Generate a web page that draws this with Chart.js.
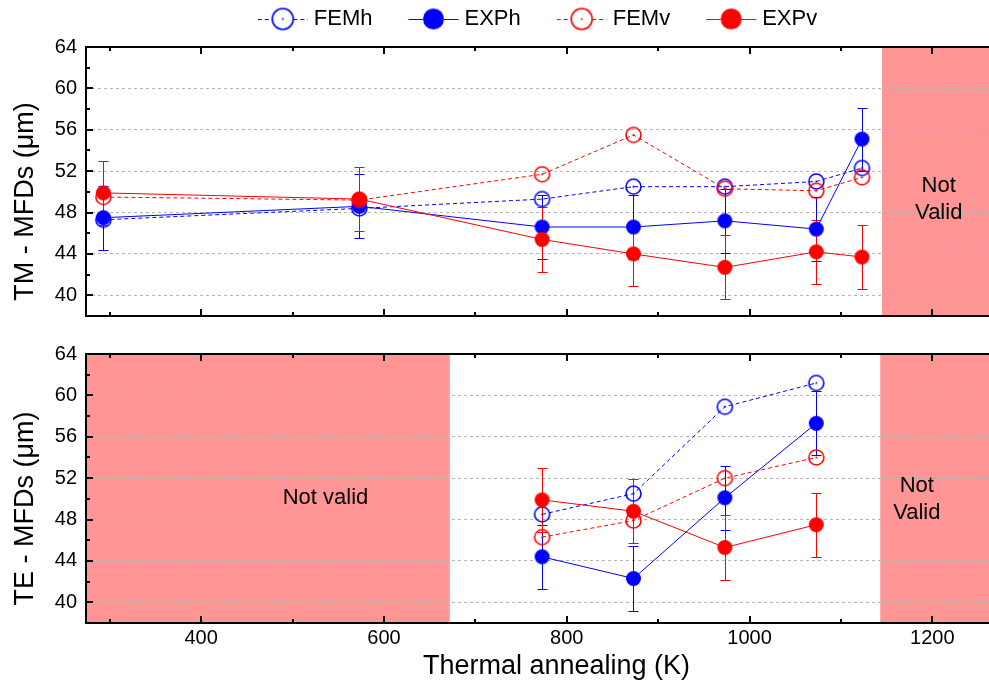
<!DOCTYPE html>
<html>
<head>
<meta charset="utf-8">
<script src="https://cdn.jsdelivr.net/npm/chart.js@4.4.1/dist/chart.umd.min.js"></script>
<style>
  body { margin: 0; background: #fff; }
  #wrap { position: relative; width: 989px; height: 683px; }
  #topBox { position: absolute; left: 0; top: 0; width: 989px; height: 330px; }
  #botBox { position: absolute; left: 0; top: 330px; width: 989px; height: 353px; }
</style>
</head>
<body>
<div id="wrap">
  <div id="topBox"><canvas id="chartTM"></canvas></div>
  <div id="botBox"><canvas id="chartTE"></canvas></div>
</div>
<script>
// temperaturas de recozimento (K)
const tempsTM = [293, 573, 773, 873, 973, 1073, 1123];
const tempsTE = [773, 873, 973, 1073];

// modo TM (um)
const femhTM = [47.3, 48.4, 49.3, 50.5, 50.5, 51.0, 52.3];
const exphTM = [47.5, 48.6, 46.6, 46.6, 47.2, 46.4, 55.1];
const femvTM = [49.5, 49.2, 51.7, 55.5, 50.3, 50.1, 51.4];
const expvTM = [49.9, 49.3, 45.4, 44.0, 42.7, 44.2, 43.7];
const exphErrTM = [3.1, 3.1, 3.1, 3.1, 3.1, 3.1, 3.05];
const expvErrTM = [3.1, 3.1, 3.1, 3.1, 3.1, 3.1, 3.1];

// modo TE (um)
const femhTE = [48.5, 50.5, 58.9, 61.2];
const exphTE = [44.4, 42.3, 50.1, 57.3];
const femvTE = [46.3, 47.9, 52.0, 54.0];
const expvTE = [49.9, 48.8, 45.3, 47.5];
const exphErrTE = [3.1, 3.1, 3.1, 3.1];
const expvErrTE = [3.1, 3.1, 3.1, 3.1];

const seriesNames = ['FEMh', 'EXPh', 'FEMv', 'EXPv'];
const xRange = [274, 1262];
const yRange = [38, 64];

// zonas "not valid" [de, ate] em K
const invalidTM = [[1145, 1262]];
const invalidTE = [[274, 672], [1143, 1262]];
// textos dentro das zonas: [x, y, texto]
const notesTM = [[1207, 49.3, 'Not\nValid']];
const notesTE = [[536, 50.1, 'Not valid'], [1183, 49.9, 'Not\nValid']];

const BLUE = '#0000ff';
const RED = '#ff0000';
const FONT = '"Liberation Sans", Arial, sans-serif';

Chart.defaults.font.family = FONT;
Chart.defaults.color = '#000';

function makeMarker(color, open, r) {
    const c = document.createElement('canvas');
    const s = Math.ceil(r * 2 + 4);
    c.width = s; c.height = s;
    const g = c.getContext('2d');
    g.beginPath();
    g.arc(s / 2, s / 2, r, 0, Math.PI * 2);
    if (open) {
        g.lineWidth = 1.6;
        g.strokeStyle = color;
        g.stroke();
        g.beginPath();
        g.arc(s / 2, s / 2, 1, 0, Math.PI * 2);
        g.fillStyle = color;
        g.fill();
    } else {
        g.fillStyle = color;
        g.fill();
    }
    return c;
}

function makeSets(xs, fh, eh, fv, ev, ehErr, evErr) {
    const pts = ys => xs.map((x, i) => ({x: x, y: ys[i]}));
    const base = (label, ys, color, open, order) => ({
        label: label,
        data: pts(ys),
        borderColor: color,
        backgroundColor: color,
        borderWidth: 1,
        borderDash: open ? [4, 3] : [],
        pointStyle: makeMarker(color, open, 7.5),
        legendMarker: makeMarker(color, open, 10.5),
        pointRadius: 7,
        order: order
    });
    const sets = [
        base(seriesNames[0], fh, BLUE, true, 4),
        base(seriesNames[1], eh, BLUE, false, 3),
        base(seriesNames[2], fv, RED, true, 2),
        base(seriesNames[3], ev, RED, false, 1)
    ];
    sets[1].errors = ehErr;
    sets[3].errors = evErr;
    return sets;
}

// zonas sombreadas por baixo da grade
const shadePlugin = {
    id: 'shade',
    beforeDraw(chart, args, opts) {
        const ctx = chart.ctx, ca = chart.chartArea, xs = chart.scales.x;
        ctx.save();
        ctx.fillStyle = '#ff9595';
        (opts.zones || []).forEach(z => {
            const a = Math.max(xs.getPixelForValue(z[0]), ca.left);
            const b = Math.min(xs.getPixelForValue(z[1]), ca.right);
            ctx.fillRect(a, ca.top, b - a, ca.bottom - ca.top);
        });
        ctx.restore();
    },
    afterDraw(chart, args, opts) {
        const ctx = chart.ctx, xs = chart.scales.x, ys = chart.scales.y;
        ctx.save();
        ctx.fillStyle = '#000';
        ctx.font = '22px ' + FONT;
        ctx.textAlign = 'center';
        ctx.textBaseline = 'middle';
        (opts.notes || []).forEach(n => {
            const lines = n[2].split('\n');
            const px = xs.getPixelForValue(n[0]);
            const py = ys.getPixelForValue(n[1]) - (lines.length - 1) * 27 / 2;
            lines.forEach((t, i) => ctx.fillText(t, px, py + i * 27));
        });
        ctx.restore();
    }
};

const errorBars = {
    id: 'errorBars',
    beforeDatasetsDraw(chart) {
        const ctx = chart.ctx, xs = chart.scales.x, ys = chart.scales.y;
        chart.data.datasets.forEach(ds => {
            if (!ds.errors) return;
            ctx.save();
            ctx.strokeStyle = ds.borderColor;
            ctx.lineWidth = 1;
            ds.data.forEach((p, i) => {
                const px = Math.round(xs.getPixelForValue(p.x)) + 0.5;
                const top = Math.round(ys.getPixelForValue(p.y + ds.errors[i])) + 0.5;
                const bot = Math.round(ys.getPixelForValue(p.y - ds.errors[i])) + 0.5;
                ctx.beginPath();
                ctx.moveTo(px, top); ctx.lineTo(px, bot);
                ctx.moveTo(px - 5, top); ctx.lineTo(px + 5, top);
                ctx.moveTo(px - 5, bot); ctx.lineTo(px + 5, bot);
                ctx.stroke();
            });
            ctx.restore();
        });
    }
};

// moldura, ticks para dentro e titulos dos eixos
const framePlugin = {
    id: 'frame',
    afterDraw(chart, args, opts) {
        const ctx = chart.ctx, ca = chart.chartArea;
        const xs = chart.scales.x, ys = chart.scales.y;
        ctx.save();
        ctx.strokeStyle = '#000';
        ctx.lineWidth = 2;
        ctx.beginPath();
        xs.ticks.forEach(t => {
            const px = Math.round(xs.getPixelForValue(t.value));
            if (px >= ca.right - 1) return;
            const len = t.value % 200 === 0 ? 7 : 4;
            ctx.moveTo(px, ca.bottom); ctx.lineTo(px, ca.bottom - len);
            ctx.moveTo(px, ca.top); ctx.lineTo(px, ca.top + len);
        });
        ys.ticks.forEach(t => {
            const py = Math.round(ys.getPixelForValue(t.value));
            const len = t.value % 4 === 0 ? 7 : 4;
            ctx.moveTo(ca.left, py); ctx.lineTo(ca.left + len, py);
        });
        ctx.stroke();
        ctx.beginPath();
        ctx.moveTo(ca.right + 2, ca.top);
        ctx.lineTo(ca.left, ca.top);
        ctx.lineTo(ca.left, ca.bottom);
        ctx.lineTo(ca.right + 2, ca.bottom);
        ctx.stroke();

        // titulos (o original esta cortado a direita, por isso fora do centro)
        ctx.fillStyle = '#000';
        ctx.font = '27px ' + FONT;
        ctx.textAlign = 'center';
        ctx.textBaseline = 'middle';
        ctx.save();
        ctx.translate(26, (ca.top + ca.bottom) / 2 + 20);
        ctx.rotate(-Math.PI / 2);
        ctx.fillText(opts.yTitle, 0, 0);
        ctx.restore();
        if (opts.xTitle) {
            ctx.fillText(opts.xTitle, (ca.left + ca.right) / 2 + 19, chart.height - 16);
        }
        ctx.restore();
    }
};

const legendPlugin = {
    id: 'seriesLegend',
    afterDraw(chart, args, opts) {
        if (!opts.show) return;
        const ctx = chart.ctx, ca = chart.chartArea;
        const lineLen = 50, gap = 6, spacing = 36, y = 19;
        ctx.save();
        ctx.font = '22px ' + FONT;
        ctx.textBaseline = 'middle';
        const items = chart.data.datasets.map(ds => ({ds: ds, w: ctx.measureText(ds.label).width}));
        const total = items.reduce((s, it) => s + lineLen + gap + it.w, 0) + spacing * (items.length - 1);
        let x = (ca.left + ca.right) / 2 - total / 2;
        items.forEach(it => {
            const ds = it.ds, cx = x + lineLen / 2, r = 10.5;
            ctx.strokeStyle = ds.borderColor;
            ctx.lineWidth = 1;
            ctx.setLineDash(ds.borderDash);
            ctx.beginPath();
            ctx.moveTo(x, y + 0.5); ctx.lineTo(cx - r, y + 0.5);
            ctx.moveTo(cx + r, y + 0.5); ctx.lineTo(x + lineLen, y + 0.5);
            ctx.stroke();
            ctx.setLineDash([]);
            const m = ds.legendMarker;
            ctx.drawImage(m, cx - m.width / 2, y - m.height / 2);
            ctx.fillStyle = '#000';
            ctx.fillText(ds.label, x + lineLen + gap, y);
            x += lineLen + gap + it.w + spacing;
        });
        ctx.restore();
    }
};

function buildChart(id, sets, opts) {
    return new Chart(document.getElementById(id).getContext('2d'), {
        type: 'line',
        data: {datasets: sets},
        plugins: [shadePlugin, errorBars, framePlugin, legendPlugin],
        options: {
            responsive: true,
            maintainAspectRatio: false,
            animation: false,
            layout: {autoPadding: false, padding: {top: opts.padTop, left: 0, right: 0, bottom: 0}},
            plugins: {
                legend: {display: false},
                tooltip: {enabled: false},
                shade: {zones: opts.zones, notes: opts.notes},
                frame: {yTitle: opts.yTitle, xTitle: opts.xTitle},
                seriesLegend: {show: opts.legend}
            },
            scales: {
                x: {
                    type: 'linear',
                    min: xRange[0],
                    max: xRange[1],
                    grid: {display: false, drawTicks: false},
                    border: {display: false},
                    ticks: {
                        display: !!opts.xTitle,
                        stepSize: 100,
                        includeBounds: false,
                        autoSkip: false,
                        maxRotation: 0,
                        padding: 3,
                        font: {size: 20},
                        callback: v => v % 200 === 0 ? v : ''
                    },
                    title: {display: false},
                    afterFit: s => { s.height = opts.xHeight; s.paddingLeft = 0; s.paddingRight = 0; }
                },
                y: {
                    min: yRange[0],
                    max: yRange[1],
                    grid: {
                        drawTicks: false,
                        lineWidth: 1,
                        color: c => (c.tick.value % 4 === 0 && c.tick.value < yRange[1]) ? '#b4b4b4' : 'rgba(0,0,0,0)'
                    },
                    border: {display: false, dash: [3, 3]},
                    ticks: {
                        stepSize: 2,
                        includeBounds: false,
                        autoSkip: false,
                        padding: 9,
                        font: {size: 20},
                        callback: v => v % 4 === 0 ? v : ''
                    },
                    title: {display: false},
                    afterFit: s => { s.width = 86; s.paddingTop = 0; s.paddingBottom = 0; }
                }
            }
        }
    });
}

window.onload = function () {
    buildChart('chartTM', makeSets(tempsTM, femhTM, exphTM, femvTM, expvTM, exphErrTM, expvErrTM), {
        padTop: 47, zones: invalidTM, notes: notesTM, legend: true,
        xHeight: 14, yTitle: 'TM - MFDs (\u03bcm)'
    });
    buildChart('chartTE', makeSets(tempsTE, femhTE, exphTE, femvTE, expvTE, exphErrTE, expvErrTE), {
        padTop: 24, zones: invalidTE, notes: notesTE, legend: false,
        xHeight: 60, yTitle: 'TE - MFDs (\u03bcm)', xTitle: 'Thermal annealing (K)'
    });
};
</script>
</body>
</html>
